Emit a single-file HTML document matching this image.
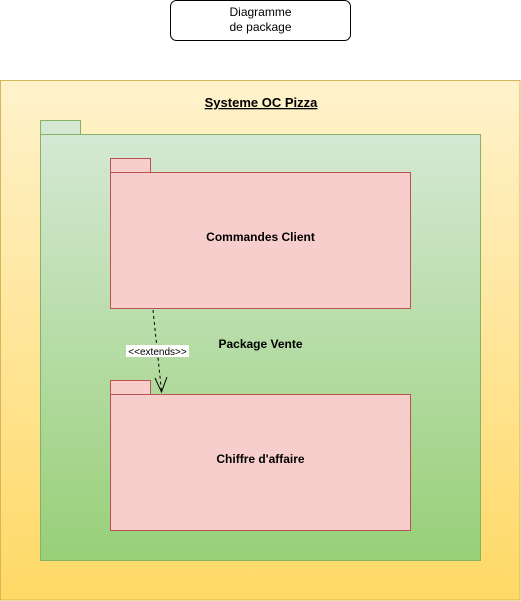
<!DOCTYPE html><html><head><style>body{margin:0;background:#fff}</style></head><body>
<svg width="521" height="601" xmlns="http://www.w3.org/2000/svg" style="display:block;font-family:'Liberation Sans',Arial,sans-serif">
<defs>
<linearGradient id="y" x1="0" y1="0" x2="0" y2="1"><stop offset="0" stop-color="#fff2cc"/><stop offset="1" stop-color="#ffd966"/></linearGradient>
<linearGradient id="g" x1="0" y1="0" x2="0" y2="1"><stop offset="0" stop-color="#d5e8d4"/><stop offset="1" stop-color="#97d077"/></linearGradient>
</defs>
<rect x="170.5" y="0.5" width="180" height="40" rx="6" fill="#fff" stroke="#000"/>
<text x="260.5" y="16" font-size="12" text-anchor="middle">Diagramme</text>
<text x="260.5" y="31" font-size="12" text-anchor="middle">de package</text>
<rect x="0.5" y="80.5" width="519.5" height="519.5" fill="url(#y)" stroke="#d6b656"/>
<text x="261" y="107" font-size="13" font-weight="bold" text-anchor="middle" text-decoration="underline">Systeme OC Pizza</text>
<rect x="40.5" y="120.5" width="40" height="14" fill="#d5e8d4" stroke="#82b366"/>
<rect x="40.5" y="134.5" width="440" height="426" fill="url(#g)" stroke="#82b366"/>
<rect x="110.5" y="158.5" width="40" height="14" fill="#f8cecc" stroke="#b85450"/>
<rect x="110.5" y="172.5" width="300" height="136" fill="#f8cecc" stroke="#b85450"/>
<text x="260.5" y="241" font-size="12" font-weight="bold" text-anchor="middle">Commandes Client</text>
<rect x="110.5" y="380.5" width="40" height="14" fill="#f8cecc" stroke="#b85450"/>
<rect x="110.5" y="394.5" width="300" height="136" fill="#f8cecc" stroke="#b85450"/>
<text x="260.5" y="463" font-size="12" font-weight="bold" text-anchor="middle">Chiffre d'affaire</text>
<text x="260.5" y="348" font-size="12" font-weight="bold" text-anchor="middle">Package Vente</text>
<line x1="153" y1="310" x2="161.5" y2="391" stroke="#000" stroke-dasharray="3,3"/>
<polyline points="155,378 161.5,392 167,377" fill="none" stroke="#000"/>
<rect x="126" y="345" width="63" height="12" fill="#fff"/>
<text x="157.5" y="355" font-size="10" text-anchor="middle">&lt;&lt;extends&gt;&gt;</text>
</svg>
</body></html>
